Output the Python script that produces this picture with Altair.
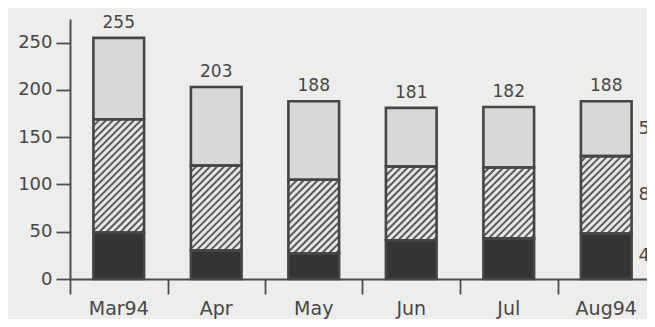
import altair as alt
import pandas as pd

months = ["Mar94", "Apr", "May", "Jun", "Jul", "Aug94"]
bottom_dark = [49, 30, 27, 41, 43, 48]
middle_hatched = [120, 90, 78, 78, 75, 82]
top_light = [86, 83, 83, 62, 64, 58]
totals = [255, 203, 188, 181, 182, 188]
y_ticks = [0, 50, 100, 150, 200, 250]

HALF = 0.26
STEP = 97.5                 # px per category
W, H = 577, 260
XMAX = -0.5 + W / STEP      # right part of the last band is cut off, as in the scan
YMAX = 275

rows = []
for i, m in enumerate(months):
    lo = 0
    for seg, v in zip(["dark", "hatched", "light"],
                      [bottom_dark[i], middle_hatched[i], top_light[i]]):
        rows.append(dict(month=m, idx=i, seg=seg, lo=lo, hi=lo + v, val=v,
                         xl=i - HALF, xr=i + HALF, mid=lo + v / 2))
        lo += v
seg_df = pd.DataFrame(rows)

tot_df = pd.DataFrame(dict(month=months, idx=list(range(len(months))), total=totals))

# hatch lines (45 degrees on screen) clipped to the hatched segments
px_per_y = H / YMAX
slope = STEP / px_per_y
step = 7.0 / px_per_y
hrows = []
for r in seg_df[seg_df.seg == "hatched"].itertuples():
    c = r.lo - slope * (r.xr - r.xl) + step * 0.5
    while c < r.hi:
        xs = max(r.xl, r.xl + (r.lo - c) / slope)
        xe = min(r.xr, r.xl + (r.hi - c) / slope)
        if xe > xs:
            hrows.append(dict(x=xs, x2=xe, y=c + slope * (xs - r.xl),
                              y2=c + slope * (xe - r.xl)))
        c += step
hatch_df = pd.DataFrame(hrows)

xscale = alt.Scale(domain=[-0.5, XMAX], nice=False, zero=False)
yscale = alt.Scale(domain=[0, YMAX], nice=False)

FONT = "DejaVu Sans"
INK = "#474747"
AX = "#4d4d4d"

fills = alt.Chart(seg_df).mark_rect().encode(
    x=alt.X("xl:Q", scale=xscale,
            axis=alt.Axis(values=[-0.5, 0.5, 1.5, 2.5, 3.5, 4.5], labels=False, title=None,
                          tickSize=15, tickColor=AX, domainColor=AX,
                          domainWidth=2, tickWidth=1.8, grid=False)),
    x2="xr:Q",
    y=alt.Y("lo:Q", scale=yscale,
            axis=alt.Axis(values=y_ticks, title=None, grid=False, tickSize=14,
                          tickColor=AX, domainColor=AX, domainWidth=2,
                          tickWidth=1.8, labelFontSize=18, labelColor=INK,
                          labelFont=FONT, labelPadding=4)),
    y2="hi:Q",
    color=alt.Color("seg:N", scale=alt.Scale(domain=["dark", "hatched", "light"],
                                             range=["#343434", "#e6e6e4", "#d8d8d6"]),
                    legend=None),
)

hatch = alt.Chart(hatch_df).mark_rule(color="#5c5c5c", strokeWidth=2).encode(
    x=alt.X("x:Q", scale=xscale), x2="x2:Q",
    y=alt.Y("y:Q", scale=yscale), y2="y2:Q",
)

outlines = alt.Chart(seg_df).mark_rect(filled=False, stroke="#454545", strokeWidth=2.6).encode(
    x=alt.X("xl:Q", scale=xscale), x2="xr:Q",
    y=alt.Y("lo:Q", scale=yscale), y2="hi:Q",
)

total_text = alt.Chart(tot_df).mark_text(baseline="bottom", dy=-6, fontSize=17,
                                         font=FONT, color=INK).encode(
    x=alt.X("idx:Q", scale=xscale), y=alt.Y("total:Q", scale=yscale), text="total:Q",
)

month_text = alt.Chart(tot_df).mark_text(baseline="middle", fontSize=19, font=FONT,
                                         color=INK).encode(
    x=alt.X("idx:Q", scale=xscale), y=alt.value(H + 30), text="month:N",
)

side_text = alt.Chart(seg_df[seg_df.idx == 5]).mark_text(align="left", baseline="middle",
                                                         dx=7, fontSize=18, font=FONT,
                                                         color=INK).encode(
    x=alt.X("xr:Q", scale=xscale), y=alt.Y("mid:Q", scale=yscale), text="val:Q",
)

chart = alt.layer(fills, hatch, outlines, total_text, month_text, side_text).properties(
    width=W, height=H,
    autosize=alt.AutoSizeParams(type="none"),
    padding={"left": 62, "top": 11, "right": 0, "bottom": 40},
    background="#ededeb",
).configure_view(stroke=None)

chart.save("out.html", embed_options={"renderer": "svg", "actions": False})
